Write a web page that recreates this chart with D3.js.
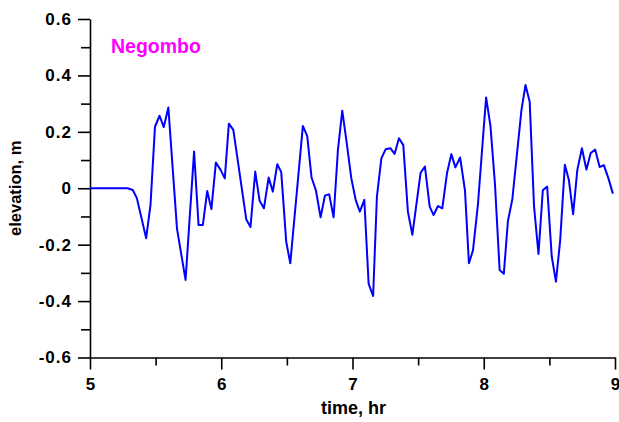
<!DOCTYPE html>
<html>
<head>
<meta charset="utf-8">
<script src="https://cdn.jsdelivr.net/npm/d3@7"></script>
<style>
  html, body { margin: 0; padding: 0; background: #fff; }
  svg { display: block; font-family: "Liberation Sans", Arial, Helvetica, sans-serif; font-weight: bold; }
</style>
</head>
<body>
<svg id="chart" width="619" height="422"></svg>
<script>
// ---- data ----
const times = [5.000, 5.286, 5.326, 5.357, 5.428, 5.461, 5.495, 5.530, 5.562, 5.597,
  5.663, 5.728, 5.793, 5.827, 5.860, 5.893, 5.925, 5.959, 5.995, 6.027,
  6.058, 6.092, 6.191, 6.223, 6.259, 6.292, 6.325, 6.361, 6.393, 6.427,
  6.457, 6.495, 6.526, 6.622, 6.655, 6.688, 6.721, 6.757, 6.790, 6.822,
  6.856, 6.889, 6.922, 6.953, 6.991, 7.024, 7.056, 7.090, 7.123, 7.157,
  7.186, 7.220, 7.252, 7.288, 7.321, 7.354, 7.387, 7.422, 7.456, 7.519,
  7.552, 7.588, 7.618, 7.651, 7.684, 7.720, 7.753, 7.784, 7.820, 7.857,
  7.887, 7.918, 7.956, 7.989, 8.018, 8.051, 8.085, 8.121, 8.153, 8.184,
  8.218, 8.251, 8.287, 8.318, 8.350, 8.383, 8.417, 8.450, 8.483, 8.518,
  8.550, 8.582, 8.618, 8.649, 8.681, 8.713, 8.748, 8.782, 8.815, 8.849,
  8.883, 8.915, 8.950, 8.984];
const elevation = [0, 0, -0.006, -0.035, -0.177, -0.059, 0.218, 0.257, 0.217, 0.286,
  -0.144, -0.325, 0.130, -0.130, -0.130, -0.010, -0.074, 0.091, 0.065, 0.035,
  0.229, 0.207, -0.111, -0.137, 0.059, -0.044, -0.071, 0.038, -0.012, 0.085,
  0.057, -0.189, -0.266, 0.221, 0.185, 0.038, -0.007, -0.103, -0.026, -0.021,
  -0.103, 0.136, 0.275, 0.171, 0.035, -0.041, -0.083, -0.041, -0.339, -0.382,
  -0.030, 0.106, 0.138, 0.142, 0.122, 0.177, 0.153, -0.083, -0.165, 0.055,
  0.077, -0.065, -0.095, -0.063, -0.071, 0.053, 0.121, 0.074, 0.109, -0.008,
  -0.266, -0.220, -0.056, 0.147, 0.322, 0.221, 0.018, -0.290, -0.303, -0.117,
  -0.038, 0.112, 0.276, 0.366, 0.307, -0.063, -0.233, -0.007, 0.006, -0.242,
  -0.331, -0.187, 0.083, 0.028, -0.092, 0.065, 0.142, 0.066, 0.125, 0.137,
  0.075, 0.082, 0.035, -0.019];

const xMajorTicks = [5, 6, 7, 8, 9];
const xMinorTicks = [5.5, 6.5, 7.5, 8.5];
const yMajorTicks = [-0.6, -0.4, -0.2, 0, 0.2, 0.4, 0.6];
const yTickLabels = ["-0.6", "-0.4", "-0.2", "0", "0.2", "0.4", "0.6"];
const yMinorTicks = [-0.5, -0.3, -0.1, 0.1, 0.3, 0.5];
const xTitle = "time, hr";
const yTitle = "elevation, m";
const stationName = "Negombo";

// ---- layout ----
const mLeft = 90, mRight = 615, mTop = 19, mBottom = 357.5;
const svg = d3.select("#chart");

const x = d3.scaleLinear().domain([5, 9]).range([mLeft, mRight]);
const y = d3.scaleLinear().domain([-0.6, 0.6]).range([mBottom, mTop]);

// x axis
const gx = svg.append("g").attr("transform", `translate(0,${mBottom})`);
gx.call(d3.axisBottom(x).tickValues(xMajorTicks).tickSize(12).tickPadding(8)
  .tickFormat(d3.format("d")).tickSizeOuter(0));
const gxm = svg.append("g").attr("transform", `translate(0,${mBottom})`);
gxm.call(d3.axisBottom(x).tickValues(xMinorTicks).tickSize(8).tickFormat("").tickSizeOuter(0));
gxm.select(".domain").remove();

// y axis
const gy = svg.append("g").attr("transform", `translate(${mLeft},0)`);
gy.call(d3.axisLeft(y).tickValues(yMajorTicks).tickSize(12).tickPadding(6)
  .tickFormat((d, i) => yTickLabels[i]).tickSizeOuter(0));
const gym = svg.append("g").attr("transform", `translate(${mLeft},0)`);
gym.call(d3.axisLeft(y).tickValues(yMinorTicks).tickSize(9).tickFormat("").tickSizeOuter(0));
gym.select(".domain").remove();

svg.selectAll(".domain, .tick line").attr("stroke", "#000").attr("stroke-width", 1.6);
gx.selectAll(".tick text").attr("font-size", 17).attr("font-weight", "bold")
  .attr("font-family", "Liberation Sans, Arial, sans-serif").attr("fill", "#000");
gy.selectAll(".tick text").attr("font-size", 17).attr("font-weight", "bold")
  .attr("font-family", "Liberation Sans, Arial, sans-serif").attr("fill", "#000")
  .attr("letter-spacing", "1px");

// axis titles
svg.append("text").attr("x", (mLeft + mRight) / 2 + 1).attr("y", 414)
  .attr("text-anchor", "middle").attr("font-size", 18).attr("fill", "#000").text(xTitle);
svg.append("text").attr("transform", `translate(21,${(mTop + mBottom) / 2}) rotate(-90)`)
  .attr("text-anchor", "middle").attr("font-size", 16.5).attr("fill", "#000").text(yTitle);

// station label
svg.append("text").attr("x", 111).attr("y", 53).attr("font-size", 19.5)
  .attr("fill", "#ff00ff").text(stationName);

// line
const pts = times.map((t, i) => [t, elevation[i]]);
svg.append("path").datum(pts)
  .attr("fill", "none").attr("stroke", "#0000ff").attr("stroke-width", 2)
  .attr("stroke-linejoin", "round")
  .attr("d", d3.line().x(d => x(d[0])).y(d => y(d[1])));
</script>
</body>
</html>
